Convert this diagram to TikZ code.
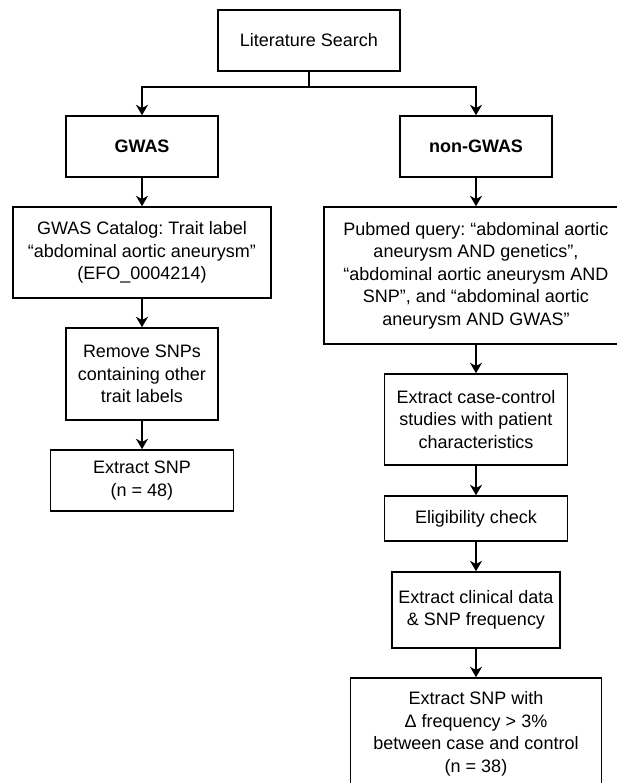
\documentclass[tikz,border=0pt]{standalone}
\usepackage{fontspec}
\setmainfont{Liberation Sans}
\usepackage{tikz}
\usetikzlibrary{positioning,arrows.meta}
\frenchspacing

\tikzset{
    box/.style={draw, line width=1.1pt, align=center, inner sep=0pt,
        font=\fontsize{12.8pt}{16pt}\selectfont},
    arr/.style={line width=1.1pt, -{Stealth[length=0.26cm, width=0.3cm, inset=0.08cm]}}
}

\begin{document}
\begin{tikzpicture}
    \useasboundingbox (0,0) rectangle (15.425,-19.575);

    % Top
    \node[box, minimum width=4.55cm, minimum height=1.525cm] (lit) at (7.725,-1.0125) {Literature Search};
    \coordinate[below=0.375cm of lit] (split);

    % GWAS branch
    \node[box, minimum width=3.8cm, minimum height=1.525cm, font=\fontsize{12.8pt}{16pt}\selectfont\bfseries] (gwas) at (3.55,-3.6625) {GWAS};
    \node[box, minimum width=6.45cm, minimum height=2.275cm] (catalog) at (3.55,-6.3125) {GWAS Catalog: Trait label\\“abdominal aortic aneurysm”\\(EFO\_0004214)};
    \node[box, minimum width=3.8cm, minimum height=2.3cm] (remove) at (3.55,-9.35) {Remove SNPs\\containing other\\trait labels};
    \node[box, minimum width=4.575cm, minimum height=1.525cm] (snpa) at (3.55,-12.0125) {Extract SNP\\(n = 48)};

    % non-GWAS branch
    \node[box, minimum width=3.8cm, minimum height=1.525cm, font=\fontsize{12.8pt}{16pt}\selectfont\bfseries] (nongwas) at (11.9,-3.6625) {non-GWAS};
    \node[box, minimum width=7.6cm, minimum height=3.425cm] (pubmed) at (11.9,-6.8875) {Pubmed query: “abdominal aortic\\aneurysm AND genetics”,\\“abdominal aortic aneurysm AND\\SNP”, and “abdominal aortic\\aneurysm AND GWAS”};
    \node[box, minimum width=4.575cm, minimum height=2.275cm] (casectrl) at (11.9,-10.4875) {Extract case-control\\studies with patient\\characteristics};
    \node[box, minimum width=4.575cm, minimum height=1.125cm] (elig) at (11.9,-12.9625) {Eligibility check};
    \node[box, minimum width=4.2cm, minimum height=1.9cm] (clinical) at (11.9,-15.25) {Extract clinical data\\\& SNP frequency};
    \node[box, minimum width=6.275cm, minimum height=2.8cm] (snpb) at (11.9,-18.35) {Extract SNP with\\Δ frequency > 3\%\\between case and control\\(n = 38)};

    % Arrows
    \draw[line width=1.1pt] (lit.south) -- (split);
    \draw[arr] (split) -| (gwas.north);
    \draw[arr] (split) -| (nongwas.north);
    \draw[arr] (gwas) -- (catalog);
    \draw[arr] (catalog) -- (remove);
    \draw[arr] (remove) -- (snpa);
    \draw[arr] (nongwas) -- (pubmed);
    \draw[arr] (pubmed) -- (casectrl);
    \draw[arr] (casectrl) -- (elig);
    \draw[arr] (elig) -- (clinical);
    \draw[arr] (clinical) -- (snpb);
\end{tikzpicture}
\end{document}
